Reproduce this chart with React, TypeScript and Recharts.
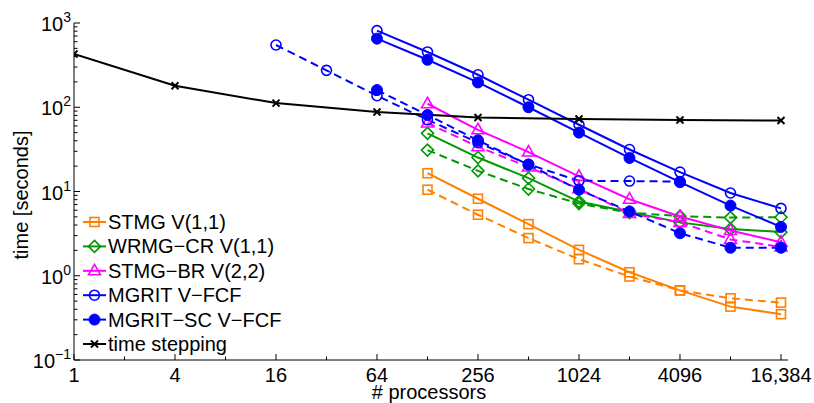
import React from 'react';
import { LineChart, Line, XAxis, YAxis, Legend, Label } from 'recharts';

// ---------- data ----------
const xTickValues = [1, 2, 4, 8, 16, 32, 64, 128, 256, 512, 1024, 2048, 4096, 8192, 16384];
const xTickLabels: Record<number, string> = { 1: '1', 4: '4', 16: '16', 64: '64', 256: '256', 1024: '1024', 4096: '4096', 16384: '16,384' };

const procsStmg = [128, 256, 512, 1024, 2048, 4096, 8192, 16384];
const stmgSolid = [16.5, 8.2, 4.1, 2.03, 1.1, 0.67, 0.43, 0.35];
const stmgDashed = [10.5, 5.3, 2.8, 1.57, 0.98, 0.67, 0.54, 0.48];
const wrmgSolid = [49, 25.3, 14.4, 7.6, 5.7, 4.3, 3.6, 3.3];
const wrmgDashed = [31, 17.6, 10.7, 7.2, 5.6, 5.1, 4.9, 4.95];
const stmgbrSolid = [110, 54, 29.4, 15.1, 8.1, 5.05, 3.45, 2.5];
const stmgbrDashed = [65, 34, 19.5, 10.8, 5.5, 4.3, 2.7, 2.2];

const procsMgrit = [64, 128, 256, 512, 1024, 2048, 4096, 8192, 16384];
const mgritSolid = [811, 453, 243, 123, 62, 31.5, 17, 9.6, 6.3];
const mgritScSolid = [652, 366, 197, 100, 50, 25, 12.9, 6.8, 3.8];
const procsMgritDashed = [16, 32, 64, 128, 256, 512, 1024, 2048, 4096];
const mgritDashed = [548, 274, 137, 71, 38, 21, 13.4, 13.3, 13.1];
const procsScDashed = [64, 128, 256, 512, 1024, 2048, 4096, 8192, 16384];
const mgritScDashed = [160, 81, 40.5, 20.8, 10.5, 5.8, 3.2, 2.15, 2.15];

const procsTs = [1, 4, 16, 64, 256, 1024, 4096, 16384];
const timeStepping = [428, 180, 112, 87.7, 75.7, 72.5, 70.5, 69.7];

const legendLabels = ['STMG V(1,1)', 'WRMG\u2212CR V(1,1)', 'STMG\u2212BR V(2,2)', 'MGRIT V\u2212FCF', 'MGRIT\u2212SC V\u2212FCF', 'time stepping'];

const zip = (xs: number[], ys: number[]) => xs.map((x, i) => ({ x, y: ys[i] }));

const yTickValues: number[] = [];
for (let k = -1; k <= 3; k++) {
  for (let j = 1; j <= 9; j++) {
    if (k === 3 && j > 1) break;
    yTickValues.push(parseFloat((j * Math.pow(10, k)).toPrecision(6)));
  }
}

// ---------- styling ----------
const W = 814;
const H = 403;
const L = 74;
const R = 788;
const T = 23;
const B = 360;
const FONT = '"Liberation Sans", Arial, Helvetica, sans-serif';
const ORANGE = '#FF8000';
const GREEN = '#009900';
const MAGENTA = '#FF00FF';
const BLUE = '#0000FF';
const BLACK = '#000000';
const DASH = '8 5';

type Shape = 'square' | 'diamond' | 'triangle' | 'circle' | 'dot' | 'x';

const Marker = ({ shape, cx, cy, color }: { shape: Shape; cx: number; cy: number; color: string }) => {
  const sw = 1.6;
  switch (shape) {
    case 'square':
      return <rect x={cx - 4.5} y={cy - 4.5} width={9} height={9} fill="none" stroke={color} strokeWidth={sw} />;
    case 'diamond':
      return <polygon points={`${cx},${cy - 6} ${cx + 6},${cy} ${cx},${cy + 6} ${cx - 6},${cy}`} fill="none" stroke={color} strokeWidth={sw} />;
    case 'triangle':
      return <polygon points={`${cx},${cy - 6.5} ${cx + 6},${cy + 4} ${cx - 6},${cy + 4}`} fill="none" stroke={color} strokeWidth={sw} />;
    case 'circle':
      return <circle cx={cx} cy={cy} r={5} fill="none" stroke={color} strokeWidth={sw} />;
    case 'dot':
      return <circle cx={cx} cy={cy} r={5.5} fill={color} stroke={color} strokeWidth={1} />;
    case 'x':
    default:
      return (
        <g stroke={color} strokeWidth={2}>
          <line x1={cx - 3.5} y1={cy - 3.5} x2={cx + 3.5} y2={cy + 3.5} />
          <line x1={cx - 3.5} y1={cy + 3.5} x2={cx + 3.5} y2={cy - 3.5} />
        </g>
      );
  }
};

const makeDot = (id: string, shape: Shape, color: string) => (props: any) => {
  const { cx, cy, index } = props;
  if (cx == null || cy == null) return <g key={`${id}-${index}`} />;
  return (
    <g key={`${id}-${index}`}>
      <Marker shape={shape} cx={cx} cy={cy} color={color} />
    </g>
  );
};

const isMajorX = (v: number) => Math.round(Math.log2(v)) % 2 === 0;
const isMajorY = (v: number) => Math.abs(Math.log10(v) - Math.round(Math.log10(v))) < 1e-6;

const XTickBottom = (props: any) => {
  const { x, payload } = props;
  const v = payload.value;
  const major = isMajorX(v);
  return (
    <g>
      <line x1={x} x2={x} y1={B} y2={B - (major ? 6 : 3.5)} stroke={BLACK} strokeWidth={1} />
      {major && (
        <text x={x} y={382} textAnchor="middle" fontFamily={FONT} fontSize={20} fill={BLACK}>
          {xTickLabels[v]}
        </text>
      )}
    </g>
  );
};

const XTickTop = (props: any) => {
  const { x, payload } = props;
  const major = isMajorX(payload.value);
  return <line x1={x} x2={x} y1={T} y2={T + (major ? 6 : 3.5)} stroke={BLACK} strokeWidth={1} />;
};

const YTickLeft = (props: any) => {
  const { y, payload } = props;
  const v = payload.value;
  const major = isMajorY(v);
  const exp = Math.round(Math.log10(v));
  return (
    <g>
      <line x1={L} x2={L + (major ? 6 : 3.5)} y1={y} y2={y} stroke={BLACK} strokeWidth={1} />
      {major && (
        <text x={L - 3} y={y + 8} textAnchor="end" fontFamily={FONT} fontSize={20} fill={BLACK}>
          <tspan>10</tspan>
          <tspan dy={-9} fontSize={14}>{exp < 0 ? `\u2212${-exp}` : `${exp}`}</tspan>
        </text>
      )}
    </g>
  );
};

const YTickRight = (props: any) => {
  const { y, payload } = props;
  const major = isMajorY(payload.value);
  return <line x1={R} x2={R - (major ? 6 : 3.5)} y1={y} y2={y} stroke={BLACK} strokeWidth={1} />;
};

const legendItems: { shape: Shape; color: string }[] = [
  { shape: 'square', color: ORANGE },
  { shape: 'diamond', color: GREEN },
  { shape: 'triangle', color: MAGENTA },
  { shape: 'circle', color: BLUE },
  { shape: 'dot', color: BLUE },
  { shape: 'x', color: BLACK },
];

const renderLegend = () => (
  <svg width={250} height={150} style={{ display: 'block' }}>
    {legendItems.map((it, i) => {
      const cy = 17 + i * 24.4;
      return (
        <g key={i}>
          <line x1={8} x2={31} y1={cy} y2={cy} stroke={it.color} strokeWidth={2} />
          <Marker shape={it.shape} cx={19.5} cy={cy} color={it.color} />
          <text x={33} y={cy + 7} fontFamily={FONT} fontSize={20} fill={BLACK}>
            {legendLabels[i]}
          </text>
        </g>
      );
    })}
  </svg>
);

const series = [
  { id: 'stmgS', data: zip(procsStmg, stmgSolid), color: ORANGE, shape: 'square' as Shape, dashed: false },
  { id: 'stmgD', data: zip(procsStmg, stmgDashed), color: ORANGE, shape: 'square' as Shape, dashed: true },
  { id: 'wrmgS', data: zip(procsStmg, wrmgSolid), color: GREEN, shape: 'diamond' as Shape, dashed: false },
  { id: 'wrmgD', data: zip(procsStmg, wrmgDashed), color: GREEN, shape: 'diamond' as Shape, dashed: true },
  { id: 'brS', data: zip(procsStmg, stmgbrSolid), color: MAGENTA, shape: 'triangle' as Shape, dashed: false },
  { id: 'brD', data: zip(procsStmg, stmgbrDashed), color: MAGENTA, shape: 'triangle' as Shape, dashed: true },
  { id: 'mgS', data: zip(procsMgrit, mgritSolid), color: BLUE, shape: 'circle' as Shape, dashed: false },
  { id: 'mgD', data: zip(procsMgritDashed, mgritDashed), color: BLUE, shape: 'circle' as Shape, dashed: true },
  { id: 'scS', data: zip(procsMgrit, mgritScSolid), color: BLUE, shape: 'dot' as Shape, dashed: false },
  { id: 'scD', data: zip(procsScDashed, mgritScDashed), color: BLUE, shape: 'dot' as Shape, dashed: true },
  { id: 'ts', data: zip(procsTs, timeStepping), color: BLACK, shape: 'x' as Shape, dashed: false },
];

export default function App() {
  return (
    <div style={{ position: 'absolute', left: 0, top: 0, width: W, height: H, background: '#fff' }}>
      <LineChart width={W} height={H} margin={{ top: T, right: W - R, bottom: 0, left: 0 }}>
        <XAxis
          xAxisId={0}
          dataKey="x"
          type="number"
          scale="log"
          domain={[1, 18040]}
          allowDataOverflow
          ticks={xTickValues}
          interval={0}
          height={H - B}
          tickLine={false}
          axisLine={{ stroke: BLACK, strokeWidth: 1 }}
          tick={(p: any) => <XTickBottom {...p} />}
        >
          <Label
            content={() => (
              <text x={429} y={399} textAnchor="middle" fontFamily={FONT} fontSize={20} fill={BLACK}>
                # processors
              </text>
            )}
          />
        </XAxis>
        <XAxis
          xAxisId="top"
          orientation="top"
          dataKey="x"
          type="number"
          scale="log"
          domain={[1, 18040]}
          allowDataOverflow
          ticks={xTickValues}
          interval={0}
          height={0}
          tickLine={false}
          axisLine={{ stroke: BLACK, strokeWidth: 1 }}
          tick={(p: any) => <XTickTop {...p} />}
        />
        <YAxis
          yAxisId={0}
          type="number"
          scale="log"
          domain={[0.1, 1000]}
          allowDataOverflow
          ticks={yTickValues}
          interval={0}
          width={L}
          tickLine={false}
          axisLine={{ stroke: BLACK, strokeWidth: 1 }}
          tick={(p: any) => <YTickLeft {...p} />}
        >
          <Label
            content={() => (
              <text
                x={28}
                y={195}
                textAnchor="middle"
                transform="rotate(-90 28 195)"
                fontFamily={FONT}
                fontSize={20}
                fill={BLACK}
              >
                time [seconds]
              </text>
            )}
          />
        </YAxis>
        <YAxis
          yAxisId="right"
          orientation="right"
          type="number"
          scale="log"
          domain={[0.1, 1000]}
          allowDataOverflow
          ticks={yTickValues}
          interval={0}
          width={0}
          tickLine={false}
          axisLine={{ stroke: BLACK, strokeWidth: 1 }}
          tick={(p: any) => <YTickRight {...p} />}
        />
        <Legend
          layout="vertical"
          align="center"
          verticalAlign="middle"
          content={renderLegend}
          wrapperStyle={{ left: 75, top: 205, width: 250, height: 150 }}
        />
        {series.map((s) => (
          <Line
            key={s.id}
            xAxisId={0}
            yAxisId={0}
            data={s.data}
            dataKey="y"
            type="linear"
            stroke={s.color}
            strokeWidth={2}
            strokeDasharray={s.dashed ? DASH : undefined}
            dot={makeDot(s.id, s.shape, s.color)}
            activeDot={false}
            isAnimationActive={false}
            legendType="none"
          />
        ))}
      </LineChart>
    </div>
  );
}
